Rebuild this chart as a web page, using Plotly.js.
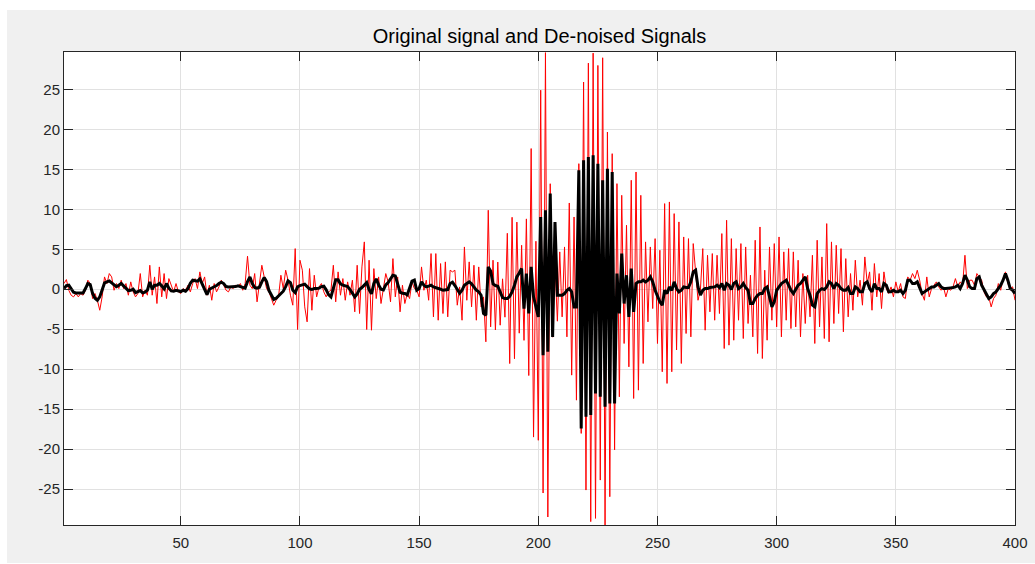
<!DOCTYPE html>
<html>
<head>
<meta charset="utf-8">
<script src="https://cdn.plot.ly/plotly-3.0.1.min.js"></script>
<style>html,body{margin:0;padding:0;background:#fff;}#chart{width:1035px;height:564px;}</style>
</head>
<body>
<div id="chart"></div>
<script>
// Original (noisy) signal, samples 1..400
var originalSignal = [
0.71,1.21,-0.13,-0.75,-0.96,-0.54,-0.96,-0.54,-0.75,-0.13,
1.13,0.71,-1.17,-0.54,-1.38,-2.63,-0.96,1.54,0.71,1.96,
1.54,-0.13,0.71,0.08,1.13,0.08,0.71,-0.75,0.92,-0.33,
-0.96,-0.54,1.96,-0.96,-0.13,-0.75,3.0,-0.75,1.54,-1.79,
2.79,-0.96,1.96,-1.17,1.33,0.5,-0.33,0.71,-0.33,-0.54,
0.08,-0.13,0.5,-0.33,0.71,1.33,0.08,2.17,0.71,1.54,
-0.75,0.5,-1.38,0.71,-0.33,0.29,1.13,0.5,-0.13,-0.33,
0.29,0.08,0.5,0.29,
0.71,-0.13,0.71,4.13,0.5,0.08,1.96,-1.58,0.71,
3.0,1.54,0.08,-0.33,-1.17,-2.0,-1.38,-0.96,1.75,0.08,
2.38,1.13,-0.75,-2.0,5.08,-5.04,3.63,2.38,-2.21,-4.08,
2.58,-2.63,1.75,-0.96,0.29,0.71,-0.33,-0.96,-0.33,-0.13,
3.0,-1.58,2.17,-0.75,1.33,-1.38,0.92,-0.75,1.13,-2.83,
3.0,-3.04,2.79,5.92,-5.04,3.63,-5.13,2.58,-1.17,1.54,
-1.79,0.08,1.96,0.92,-1.58,3.83,-0.96,1.54,-2.83,0.5,
-1.79,-0.54,-1.17,0.92,0.08,
-0.13,-0.96,2.79,-0.13,1.13,-1.38,4.46,-3.46,4.46,-3.88,
3.21,-3.04,3.42,-3.46,2.38,2.17,2.38,-2.0,0.29,-3.88,
5.29,-1.38,3.42,-2.21,3.0,-3.88,2.79,-2.21,-0.96,-6.58,
9.88,-4.71,3.63,
-5.1,3.4,-4.5,1.3,-3.5,7.0,-9.3,9.0,-8.7,8.4,
-5.5,5.5,-6.4,8.8,-10.8,17.6,-18.5,6.0,-18.9,24.9,
-25.5,29.6,-28.5,13.2,-6.0,
3.0,-4.0,4.67,-3.46,5.29,-5.96,10.79,-10.75,9.04,-13.88,
15.71,-18.04,25.92,-25.13,28.29,-29.08,29.54,-28.67,28.0,-23.88,
28.96,-29.5,19.67,-25.96,16.96,
-20.1,13.21,-13.46,11.75,-6.79,8.0,-9.71,13.63,-13.67,14.67,
-12.63,11.75,-9.29,5.92,-4.08,5.29,-2.42,6.33,-6.79,4.88,
-10.33,10.71,-11.79,10.92,-10.33,
9.46,-7.6,8.42,-9.29,6.54,-5.54,6.33,-5.96,5.71,1.96,
-1.38,-0.13,5.08,-5.13,4.25,-2.83,4.46,-3.88,4.25,-3.04,
6.96,-7.42,8.63,-7.0,6.33,-6.38,5.08,-3.88,5.71,-6.17,
5.29,-4.29,1.75,-5.96,6.13,-8.04,7.79,-8.67,2.38,-6.38,
5.29,-3.88,5.71,-4.71,6.54,-5.96,4.67,-3.88,5.08,-4.92,
4.67,-4.71,3.63,-5.96,1.96,-4.29,1.75,-3.46,4.25,-6.79,
6.13,-4.71,4.04,-6.17,8.21,-6.58,5.92,-4.29,5.5,-3.04,
5.08,-5.33,3.83,-3.46,
1.96,-2.63,3.63,-0.96,1.13,-2.0,4.04,0.71,2.17,-2.63,
3.21,-0.96,1.96,-2.42,2.17,0.08,-0.54,0.29,-0.96,0.92,
-0.33,0.71,-0.96,-1.17,1.54,1.13,1.96,1.33,2.38,1.13,
-0.54,-1.38,1.54,-0.96,0.08,0.5,0.92,0.29,-0.13,0.29,
-0.96,0.08,-0.13,0.29,1.33,0.29,0.92,0.5,4.25,0.08,
1.13,1.13,0.5,1.96,1.54,1.13,-0.33,-0.96,-0.96,-2.21,
-1.17,-0.75,0.71,-0.13,1.33,2.17,0.71,0.08,0.3,-1.38
];

// De-noised signal, samples 1..400
var denoisedSignal = [
0.08,0.46,0.5,0,-0.38,-0.46,-0.46,-0.46,-0.46,0.08,
0.71,0.58,-0.54,-1.13,-1.38,-0.96,0.04,0.79,0.92,1.04,
0.79,0.54,0.33,0.5,0.71,0.42,0.13,-0.17,-0.13,0,
-0.42,-0.29,-0.17,-0.46,-0.38,-0.13,0.92,0,0.5,0.5,
0.71,0.42,0.04,0.71,0.13,-0.21,-0.25,-0.13,-0.25,-0.29,
-0.13,-0.25,0.08,0.75,1.13,1.08,1.0,1.29,0.63,-0.13,
-0.67,0,0.13,0.25,0.46,0.71,0.88,0.71,0.33,0.29,
0.29,0.29,0.33,0.42,
0.29,0.21,0.13,0.96,1.54,0.71,0.21,0.13,0.25,0.92,
1.46,0.96,-0.17,-0.71,-1.29,-1.13,-0.83,-0.54,-0.25,0.33,
1.04,0.83,-0.13,-0.42,0.29,0.46,0.54,0.63,0.33,0.04,
-0.04,0.08,0.08,0.13,0.33,0.38,-0.08,-0.67,-0.96,-0.04,
1.17,1.17,0.67,0.5,0.46,0.33,-0.04,-0.5,-0.96,-0.58,
0,0.21,0.5,0.83,-0.04,-0.58,0.71,1.29,0.54,0,
-0.08,0.54,0.83,1.29,1.75,1.67,0.5,-0.38,-0.5,-0.54,
-0.71,0.17,1.0,1.13,
-0.13,0.08,0.92,0.5,0.29,0.38,0.5,0.29,0.21,0.08,
0,-0.13,-0.13,-0.04,0.71,0.88,0.46,0,-0.5,-0.13,
0.5,0.71,0.92,0.67,0.25,-0.13,-0.33,-0.75,-3.04,-3.25,
2.79,2.29,0.67,
0.46,0.38,-0.33,-1.04,-1.17,-1.17,-0.88,-0.33,0.5,1.54,
2.04,2.58,-2.42,1.96,-3.04,2.79,-0.96,-2.2,-3.46,9.04,
-8.25,9.88,-7.83,11.96,-5.96,
8.4,-0.75,-0.75,-0.75,-0.54,-0.13,0.08,-0.33,-2.21,-2.21,
14.88,-17.42,16.13,-15.96,16.54,-15.75,16.75,-13.04,15.71,-13.46,
13.63,-14.71,15.08,-14.29,14.67,
-14.3,1.96,-3.04,4.46,-1.79,1.75,-3.46,2.58,-2.83,0.71,
0.92,0.92,1.13,0.92,1.13,1.54,0.92,-0.13,-0.96,-1.58,
-2.0,-0.13,-0.54,0.29,-0.13,
0.92,0.08,-0.33,-0.13,0.29,0.21,0.21,0.92,2.17,2.38,
0.29,-0.75,-0.13,0.08,0.08,0.21,0.21,0.29,0.5,0.21,
0.71,-0.13,0.71,0.5,-0.04,0.71,0.92,0.08,0.29,0.71,
0.21,-0.13,-1.79,-1.79,-1.17,-0.75,-0.54,-0.54,0.08,0.29,
-0.96,-2.21,-1.58,-0.13,0.29,0.71,0.92,1.13,0.5,-0.13,
-0.54,0.08,0.5,0.71,1.13,1.54,0.08,-0.75,-2.0,-2.21,
-0.54,-0.13,0.08,-0.04,0.29,0.92,0.71,0.08,0.71,0.5,
0.08,-0.13,-0.13,0.21,
-0.54,-0.54,0.29,0.08,-0.33,-0.33,0.71,0.92,0.08,-0.33,
0.71,0.08,0.08,-0.33,0.71,0.5,-0.33,-0.33,-0.13,-0.33,
-0.33,-0.13,-0.54,-0.13,1.13,1.13,0.71,0.71,0.92,0.29,
-0.54,-0.33,-0.13,0.08,0.29,0.29,0.5,0.71,0.29,0.08,
0.08,0.08,0.17,0.21,0.29,0.5,0.08,0.71,1.75,1.13,
0.29,0.08,0.08,1.33,1.54,0.5,-0.13,-0.54,-1.17,-0.96,
-0.54,-0.33,0.08,0.5,1.13,1.96,1.13,0.08,-0.13,-0.54
];

var xTickVals = [50,100,150,200,250,300,350,400];
var yTickVals = [-25,-20,-15,-10,-5,0,5,10,15,20,25];
var yTickText = ['-25','-20','-15','-10','-5','0','5','10','15','20','25'];
var titleText = 'Original signal and De-noised Signals';

var sampleIndex = [];
for (var i = 0; i < originalSignal.length; i++) sampleIndex.push(i + 1);

var yMin = Math.min.apply(null, originalSignal);
var yMax = Math.max.apply(null, originalSignal);

var axisColor = '#262626';
var gridColor = '#e1e1e1';
var tickFont = {family: 'Liberation Sans, Arial, sans-serif', size: 15, color: axisColor};

var traces = [
  {x: sampleIndex, y: originalSignal, type: 'scatter', mode: 'lines',
   line: {color: '#ff0000', width: 1}, hoverinfo: 'x+y'},
  {x: sampleIndex, y: denoisedSignal, type: 'scatter', mode: 'lines',
   line: {color: '#000000', width: 3}, hoverinfo: 'x+y'}
];

var layout = {
  width: 1035, height: 564,
  paper_bgcolor: '#f0f0f0',
  plot_bgcolor: '#ffffff',
  showlegend: false,
  margin: {l: 64, r: 20, t: 52, b: 39, pad: 0},
  title: {text: titleText, x: 0.5, xref: 'paper', y: 1 - 36/564, yref: 'container',
          xanchor: 'center', yanchor: 'middle',
          font: {family: 'Liberation Sans, Arial, sans-serif', size: 20, color: '#000000'}},
  xaxis: {range: [1, 400], tickmode: 'array', tickvals: xTickVals,
          ticks: 'inside', ticklen: 9, tickwidth: 1, tickcolor: axisColor,
          ticklabelstandoff: 4,
          showline: true, mirror: 'ticks', linecolor: axisColor, linewidth: 1,
          showgrid: true, gridcolor: gridColor, gridwidth: 1, zeroline: false,
          tickfont: tickFont},
  yaxis: {range: [yMin, yMax + 0.08], tickmode: 'array', tickvals: yTickVals, ticktext: yTickText,
          ticks: 'inside', ticklen: 9, tickwidth: 1, tickcolor: axisColor,
          showline: true, mirror: 'ticks', linecolor: axisColor, linewidth: 1,
          showgrid: true, gridcolor: gridColor, gridwidth: 1, zeroline: false,
          tickfont: tickFont},
  shapes: [
    {type: 'rect', xref: 'paper', yref: 'paper', x0: -0.2, x1: 1.2, y0: (525-10)/473, y1: 1.3,
     fillcolor: '#ffffff', line: {width: 0}, layer: 'below'},
    {type: 'rect', xref: 'paper', yref: 'paper', x0: -0.2, x1: (7-64)/951, y0: -0.2, y1: 1.3,
     fillcolor: '#ffffff', line: {width: 0}, layer: 'below'},
    {type: 'rect', xref: 'paper', yref: 'paper', x0: -0.2, x1: 1.2, y0: -0.2, y1: (525-563)/473,
     fillcolor: '#ffffff', line: {width: 0}, layer: 'below'}
  ]
};

Plotly.newPlot('chart', traces, layout, {displayModeBar: false, staticPlot: true});
</script>
</body>
</html>
